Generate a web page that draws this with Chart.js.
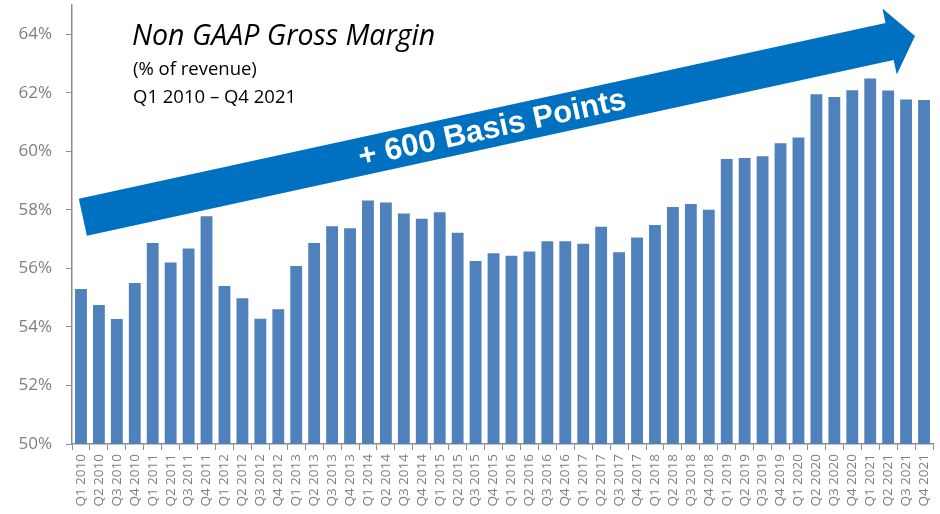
<!DOCTYPE html>
<html>
<head>
<meta charset="utf-8">
<script src="https://cdn.jsdelivr.net/npm/chart.js@4"></script>
<style>
  html, body { margin: 0; padding: 0; background: #fff; }
  #wrap { width: 940px; height: 514px; }
</style>
</head>
<body>
<div id="wrap"><canvas id="chart" width="940" height="514"></canvas></div>
<script>
const quarters = [
  "Q1 2010", "Q2 2010", "Q3 2010", "Q4 2010",
  "Q1 2011", "Q2 2011", "Q3 2011", "Q4 2011",
  "Q1 2012", "Q2 2012", "Q3 2012", "Q4 2012",
  "Q1 2013", "Q2 2013", "Q3 2013", "Q4 2013",
  "Q1 2014", "Q2 2014", "Q3 2014", "Q4 2014",
  "Q1 2015", "Q2 2015", "Q3 2015", "Q4 2015",
  "Q1 2016", "Q2 2016", "Q3 2016", "Q4 2016",
  "Q1 2017", "Q2 2017", "Q3 2017", "Q4 2017",
  "Q1 2018", "Q2 2018", "Q3 2018", "Q4 2018",
  "Q1 2019", "Q2 2019", "Q3 2019", "Q4 2019",
  "Q1 2020", "Q2 2020", "Q3 2020", "Q4 2020",
  "Q1 2021", "Q2 2021", "Q3 2021", "Q4 2021"
];

// non GAAP gross margin, % of revenue
const grossMargin = [
  55.3, 54.75, 54.27, 55.5,
  56.87, 56.2, 56.68, 57.78,
  55.4, 54.98, 54.28, 54.6,
  56.08, 56.87, 57.44, 57.37,
  58.32, 58.25, 57.88, 57.7,
  57.92, 57.22, 56.25, 56.52,
  56.43, 56.58, 56.93, 56.93,
  56.84, 57.42, 56.55, 57.06,
  57.48, 58.1, 58.2, 58.0,
  59.74, 59.77, 59.83, 60.28,
  60.47, 61.95, 61.86, 62.09,
  62.49, 62.08, 61.77, 61.75
];

const yTicks = [50, 52, 54, 56, 58, 60, 62, 64];

const titleLines = ["Non GAAP Gross Margin", "(% of revenue)", "Q1 2010 \u2013 Q4 2021"];
const arrowLabel = "+ 600 Basis Points";

const greyText = "#7f7f7f";
const axisGrey = "#8c8c8c";

// title block + trend arrow drawn on top of the chart
const decorPlugin = {
  id: "decor",
  afterDatasetsDraw(chart) {
    const ctx = chart.ctx;
    ctx.save();

    // arrow
    const x0 = 82.85, y0 = 217.2, x1 = 915, y1 = 36;
    const ang = Math.atan2(y1 - y0, x1 - x0);
    const len = Math.hypot(x1 - x0, y1 - y0);
    const sw = 19, hw = 33.75, hl = 26;
    ctx.translate(x0, y0);
    ctx.rotate(ang);
    ctx.beginPath();
    ctx.moveTo(0, -sw);
    ctx.lineTo(len - hl, -sw);
    ctx.lineTo(len - hl, -hw);
    ctx.lineTo(len, 0);
    ctx.lineTo(len - hl, hw);
    ctx.lineTo(len - hl, sw);
    ctx.lineTo(0, sw);
    ctx.closePath();
    ctx.fillStyle = "#0070c0";
    ctx.fill();

    ctx.fillStyle = "#ffffff";
    ctx.font = "bold 31px 'Liberation Sans', Arial, sans-serif";
    ctx.textAlign = "center";
    ctx.textBaseline = "middle";
    ctx.fillText(arrowLabel, 419, 1);
    ctx.restore();

    // title
    ctx.save();
    ctx.fillStyle = "#000000";
    ctx.textAlign = "left";
    ctx.textBaseline = "alphabetic";
    ctx.font = "italic 28.5px 'Open Sans', sans-serif";
    ctx.fillText(titleLines[0], 132, 45);
    ctx.font = "18.5px 'Open Sans', sans-serif";
    ctx.fillText(titleLines[1], 133, 75);
    ctx.fillText(titleLines[2], 133, 103);
    ctx.restore();
  }
};

new Chart(document.getElementById("chart"), {
  type: "bar",
  data: {
    labels: quarters,
    datasets: [{
      data: grossMargin,
      backgroundColor: "#4f81bd",
      borderWidth: 0,
      barPercentage: 0.66,
      categoryPercentage: 1.0
    }]
  },
  options: {
    responsive: false,
    animation: false,
    layout: { padding: { top: 5, right: 7, left: 0, bottom: 0 } },
    plugins: {
      legend: { display: false },
      tooltip: { enabled: false }
    },
    scales: {
      x: {
        offset: true,
        grid: {
          display: true,
          offset: true,
          drawOnChartArea: false,
          drawTicks: true,
          tickLength: 6,
          color: axisGrey,
          lineWidth: 1
        },
        border: { display: true, color: axisGrey, width: 1.5 },
        ticks: {
          autoSkip: false,
          minRotation: 90,
          maxRotation: 90,
          padding: 4,
          color: greyText,
          font: { family: "'Open Sans', sans-serif", size: 13.5 }
        },
        afterFit(scale) {
          scale.height = 70;
          scale.paddingLeft = 0;
          scale.paddingRight = 0;
        }
      },
      y: {
        min: 50,
        max: 65,
        ticks: {
          stepSize: 2,
          padding: 14,
          color: greyText,
          font: { family: "'Open Sans', sans-serif", size: 17 },
          callback: v => v + "%"
        },
        afterBuildTicks(scale) {
          scale.ticks = scale.ticks.filter(t => yTicks.includes(t.value));
        },
        grid: {
          display: true,
          drawOnChartArea: false,
          drawTicks: true,
          tickLength: 6,
          color: axisGrey,
          lineWidth: 1
        },
        border: { display: true, color: axisGrey, width: 1.5 },
        afterFit(scale) {
          scale.width = 72;
          scale.paddingTop = 0;
          scale.paddingBottom = 0;
        }
      }
    }
  },
  plugins: [decorPlugin]
});
</script>
</body>
</html>
